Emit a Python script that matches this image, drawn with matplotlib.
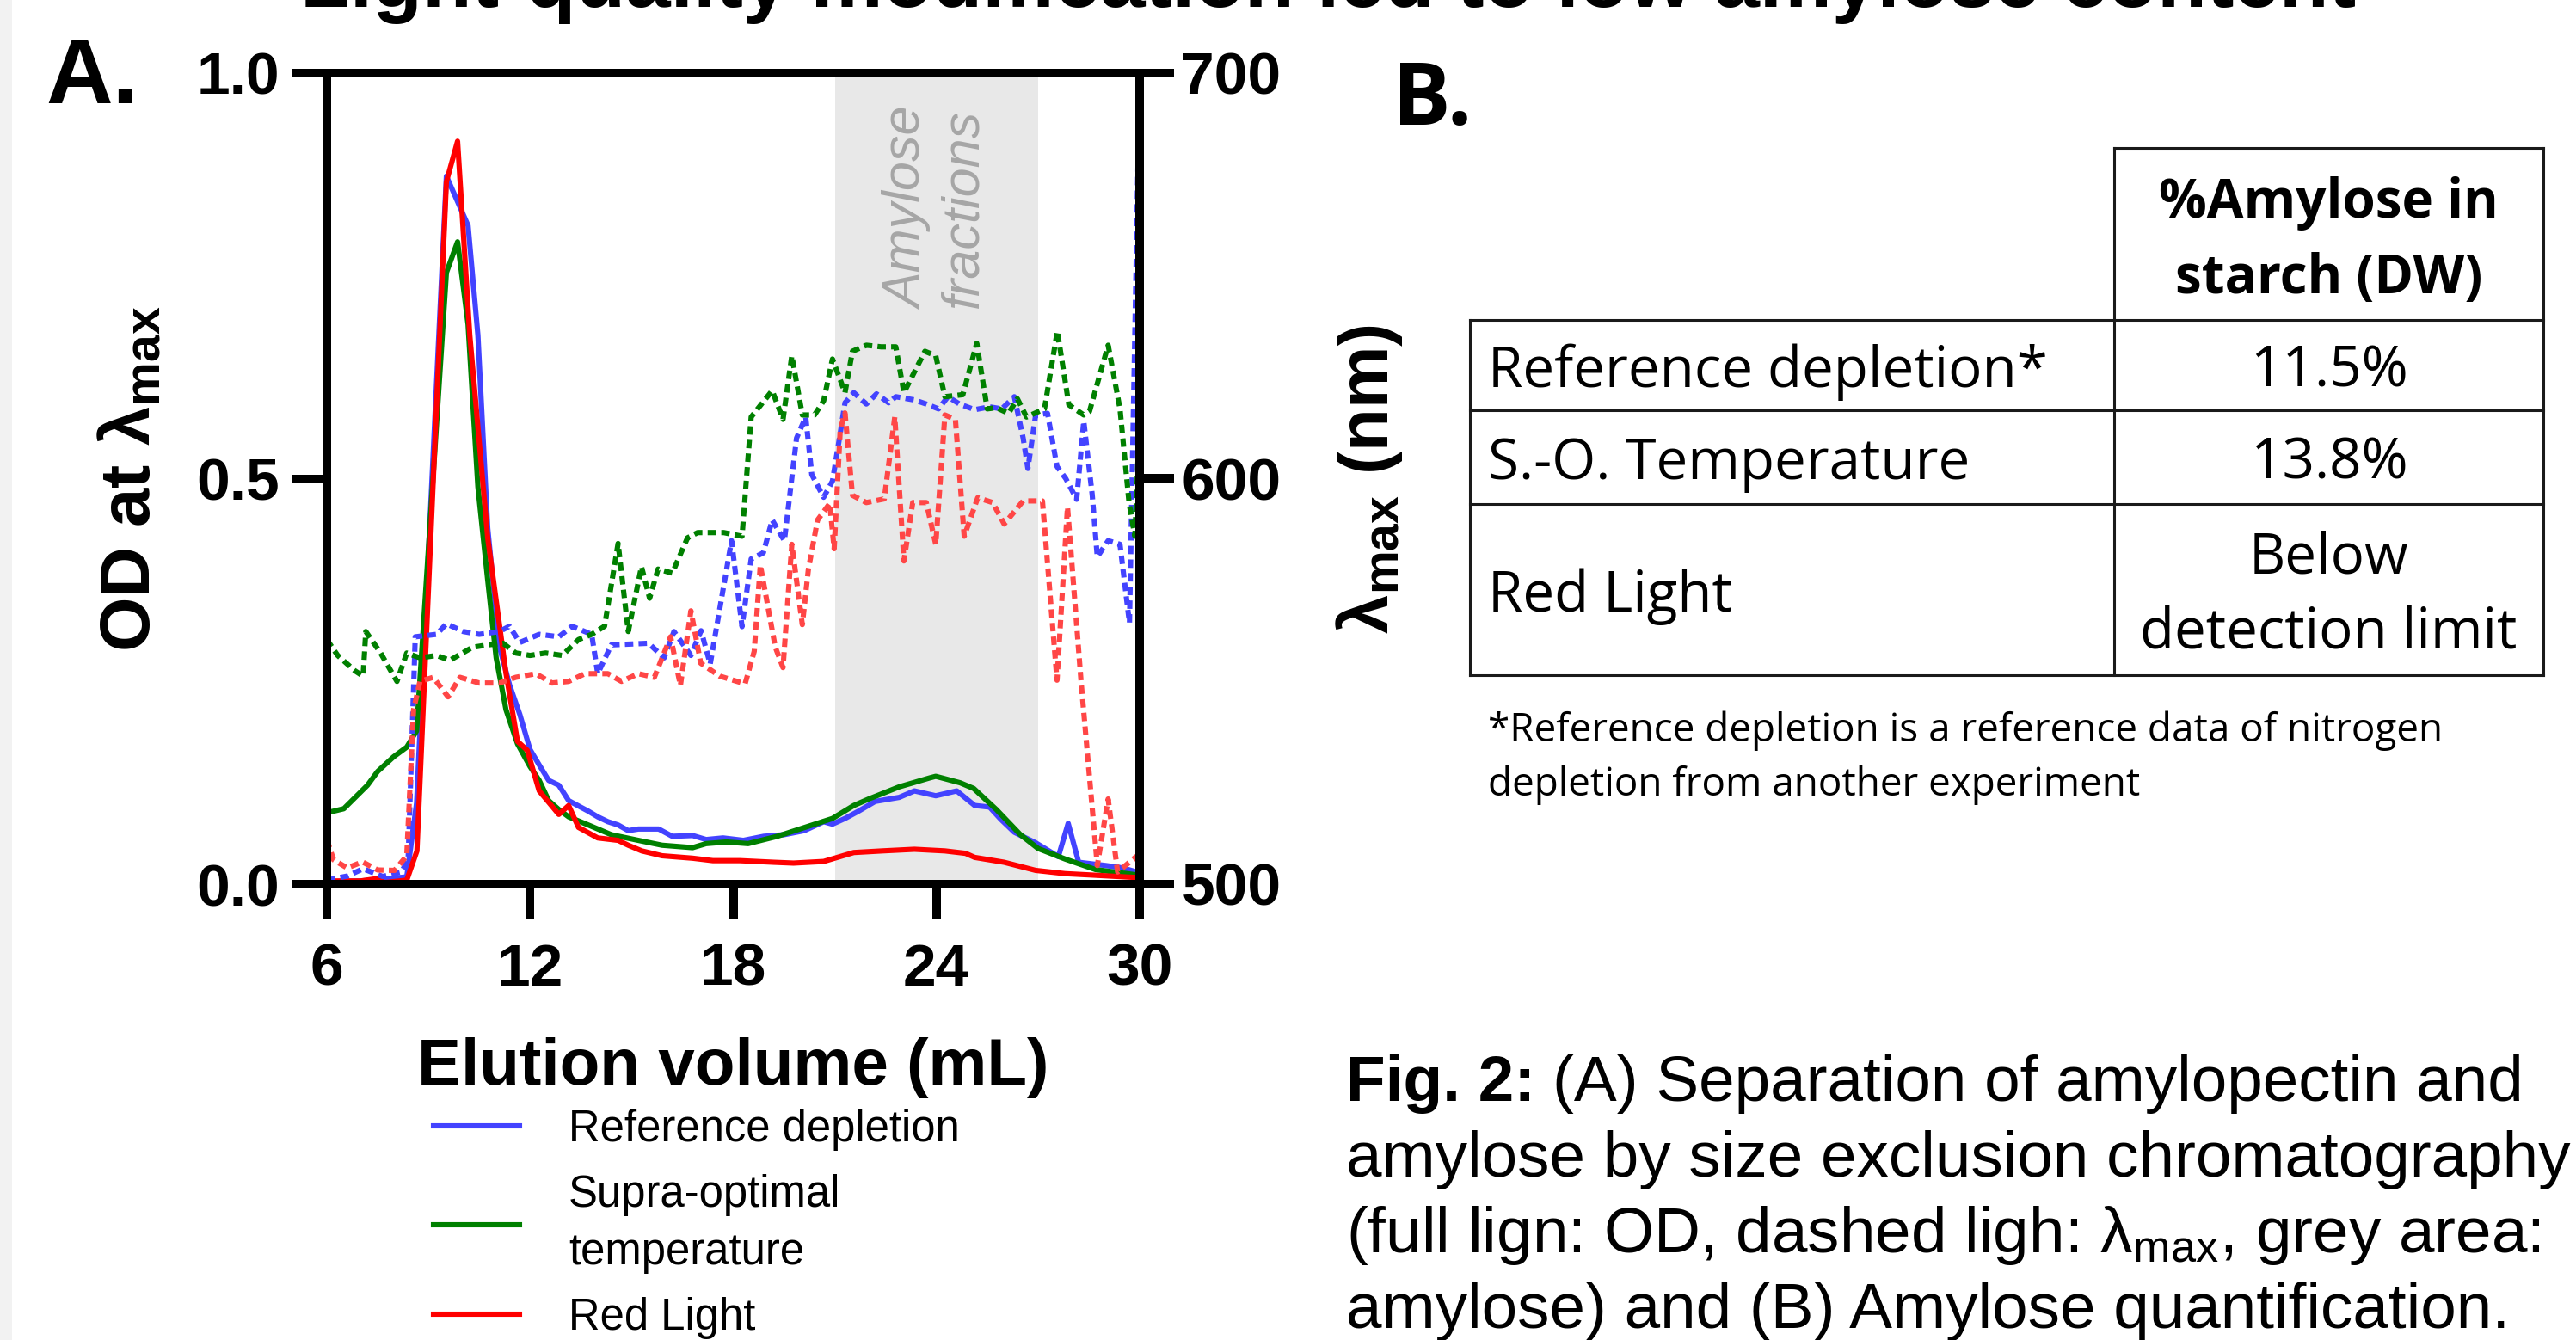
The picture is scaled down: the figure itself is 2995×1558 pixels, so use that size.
import numpy as np
import matplotlib
matplotlib.use("Agg")
import matplotlib.pyplot as plt
from matplotlib.patches import Rectangle
from matplotlib.ticker import FormatStrFormatter

plt.rcParams['font.family'] = ['Liberation Sans', 'DejaVu Sans']
plt.rcParams['mathtext.fontset'] = 'custom'
plt.rcParams['mathtext.rm'] = 'Liberation Sans'
plt.rcParams['mathtext.bf'] = 'Liberation Sans:bold'
plt.rcParams['mathtext.it'] = 'Liberation Sans:italic'

# ---- data (elution volume mL, value) ----
# OD at lambda max (left axis)
ref_od = [(6.0, .003), (7.0, .004), (7.6, .006), (8.36, .009), (8.65, .10), (9.53, .873),
          (10.17, .812), (10.46, .677), (10.75, .439), (11.1, .292), (11.4, .245), (11.7, .209),
          (12.0, .166), (12.3, .145), (12.55, .128), (12.85, .122), (13.14, .103), (13.45, .096),
          (13.72, .090), (14.0, .083), (14.3, .077), (14.6, .073), (14.9, .066), (15.2, .068),
          (15.8, .068), (16.2, .059), (16.8, .060), (17.2, .055), (17.7, .057), (18.3, .054),
          (18.9, .059), (19.5, .061), (20.1, .066), (20.67, .077), (20.93, .074), (21.3, .081),
          (21.7, .090), (22.19, .102), (22.9, .107), (23.35, .115), (23.98, .109), (24.6, .115),
          (25.13, .097), (25.57, .095), (25.9, .080), (26.3, .064), (26.93, .051), (27.6, .034),
          (27.89, .075), (28.2, .027), (29.0, .023), (29.5, .020), (30.0, .014)]
supra_od = [(6.0, .088), (6.5, .093), (7.2, .122), (7.5, .139), (7.97, .157), (8.36, .169),
            (8.65, .189), (9.53, .754), (9.86, .792), (10.17, .69), (10.46, .49), (10.75, .375),
            (11.0, .279), (11.29, .215), (11.63, .173), (12.0, .145), (12.27, .128), (12.55, .103),
            (12.85, .092), (13.14, .083), (13.72, .073), (14.4, .061), (15.2, .054), (15.9, .048),
            (16.8, .045), (17.2, .050), (17.8, .052), (18.44, .050), (19.3, .059), (20.04, .069),
            (20.93, .081), (21.56, .097), (22.0, .105), (22.9, .120), (23.8, .131), (23.98, .133),
            (24.7, .125), (25.1, .118), (25.77, .092), (26.48, .061), (27.0, .044), (27.8, .031),
            (28.7, .018), (30.0, .011)]
red_od = [(6.0, .004), (7.0, .004), (7.5, .007), (7.7, .002), (8.36, .005), (8.66, .041),
          (9.53, .866), (9.86, .916), (10.22, .677), (10.75, .427), (11.29, .26), (11.63, .176),
          (11.92, .165), (12.27, .115), (12.85, .086), (13.14, .097), (13.43, .070), (14.0, .057),
          (14.6, .054), (14.9, .048), (15.3, .041), (15.9, .035), (16.8, .032), (17.4, .029),
          (18.2, .029), (19.2, .027), (19.78, .026), (20.67, .028), (21.56, .039), (22.4, .041),
          (23.35, .043), (24.25, .041), (24.86, .038), (25.13, .033), (26.0, .027), (26.93, .017),
          (27.8, .013), (28.7, .011), (30.0, .008)]

# lambda max in nm (right axis)
ref_lmax = [(6.0, 501), (6.6, 502), (7.07, 503.8), (7.65, 501.9), (8.2, 503), (8.4, 506),
            (8.61, 561), (9.24, 561.6), (9.53, 564.2), (10.03, 562.3), (10.5, 561.6), (11.1, 562.3),
            (11.39, 563.6), (11.7, 559.6), (12.27, 561.6), (12.85, 561), (13.24, 563.6), (13.82, 561.6),
            (14.0, 551.9), (14.4, 559), (15.5, 559.4), (15.96, 555.8), (16.25, 562.3), (16.75, 556.4),
            (17.05, 562.5), (17.32, 554.3), (17.95, 584.7), (18.26, 563.5), (18.53, 580.2), (18.89, 581.7),
            (19.15, 589.8), (19.51, 584.7), (19.87, 610), (20.14, 615.2), (20.32, 601), (20.67, 595.4),
            (20.93, 599.4), (21.12, 609.1), (21.3, 618.7), (21.56, 621.2), (21.93, 618.4), (22.23, 620.9),
            (22.59, 618.7), (22.8, 620.2), (23.35, 619.4), (23.7, 618.4), (24.06, 617.2), (24.34, 620.2),
            (24.68, 618.4), (25.13, 617), (25.57, 617.7), (25.93, 617.2), (26.3, 620.2), (26.56, 610),
            (26.7, 602.5), (26.93, 615.7), (27.28, 616.1), (27.56, 603), (27.82, 600), (28.14, 594.9),
            (28.35, 614.2), (28.6, 596), (28.75, 580.7), (29.07, 584.7), (29.42, 583.8), (29.7, 564.4),
            (30.0, 699)]
supra_lmax = [(6.0, 560.3), (6.32, 556.4), (6.83, 552.6), (7.07, 551.3), (7.15, 562.3), (7.58, 557.1),
              (8.07, 550), (8.36, 557), (8.75, 555.8), (9.24, 556.4), (9.63, 555.2), (10.3, 558.4),
              (10.75, 559), (11.2, 559.4), (11.58, 557), (12.0, 556.4), (12.46, 557), (12.95, 556.4),
              (13.43, 560.3), (13.82, 561.6), (14.2, 563.6), (14.6, 584), (14.9, 562.3), (15.29, 578.3),
              (15.53, 570.5), (15.78, 577.7), (16.2, 576.7), (16.65, 585.4), (16.95, 586.7), (17.72, 586.7),
              (18.26, 585.8), (18.53, 615.2), (19.15, 621.7), (19.47, 614.6), (19.73, 630.3), (20.04, 615.7),
              (20.4, 615.7), (20.67, 619.2), (20.93, 629.5), (21.3, 621.2), (21.52, 631.4), (21.93, 632.9),
              (22.37, 632.5), (22.8, 632.5), (23.04, 621.2), (23.66, 631.4), (23.98, 630.3), (24.25, 620.2),
              (24.78, 620.7), (25.19, 633.4), (25.5, 617.2), (25.77, 617.5), (26.13, 616.1), (26.39, 619.7),
              (26.66, 615.2), (27.19, 617.2), (27.57, 636.4), (27.91, 618.2), (28.35, 615.7), (28.52, 616.6),
              (29.07, 632.9), (29.42, 617.2), (29.69, 593.9), (29.86, 585.8), (30.0, 614.6)]
red_lmax = [(6.0, 511), (6.2, 506), (6.6, 504), (7.05, 505.5), (7.5, 503.5), (8.0, 503.4),
            (8.36, 507), (8.56, 543), (8.75, 550), (9.14, 551), (9.58, 546.2), (9.93, 551),
            (10.5, 549.6), (11.1, 549.6), (11.58, 551), (12.17, 551.9), (12.65, 549.6), (13.14, 550),
            (13.62, 551.9), (14.3, 551.9), (14.7, 550), (15.2, 551.9), (15.67, 551), (16.15, 561),
            (16.44, 549), (16.75, 567.4), (17.04, 554.5), (17.6, 551.3), (18.35, 549.4), (18.62, 557.4),
            (18.8, 578.7), (19.24, 558.5), (19.47, 553.4), (19.73, 583.8), (20.04, 564), (20.22, 577.7),
            (20.49, 589.8), (20.85, 593.9), (20.98, 582.7), (21.16, 612.1), (21.3, 616.2), (21.52, 595.9),
            (21.93, 594.1), (22.46, 595), (22.77, 615.2), (23.04, 579.7), (23.3, 594.1), (23.7, 594.1),
            (23.98, 583.8), (24.25, 615.7), (24.56, 614.6), (24.82, 585.8), (25.22, 595.3), (25.66, 594.1),
            (26.0, 588.8), (26.56, 594.5), (27.13, 594.5), (27.56, 550.3), (27.87, 593), (28.27, 550),
            (28.75, 504.6), (29.07, 521), (29.35, 503), (29.9, 506.8), (30.0, 503)]

series_names = ["Reference depletion", "Supra-optimal\ntemperature", "Red Light"]
amylose_window = (21, 27)

x_ticks = [6, 12, 18, 24, 30]
od_ticks = [0.0, 0.5, 1.0]
nm_ticks = [500, 600, 700]

# table B
row_labels = ["Reference depletion*", "S.-O. Temperature", "Red Light"]
amylose_pct = ["11.5%", "13.8%", "Below\ndetection limit"]
table_header = "%Amylose in\nstarch (DW)"
footnote = ["*Reference depletion is a reference data of nitrogen",
            "depletion from another experiment"]

caption = ["(A) Separation of amylopectin and",
           "amylose by size exclusion chromatography",
           "(full lign: OD, dashed ligh: λ$_{\\mathrm{max}}$, grey area:",
           "amylose) and (B) Amylose quantification."]

# ---- figure ----
W, H = 2995, 1558
DPI = 200
fig = plt.figure(figsize=(W / DPI, H / DPI), dpi=DPI, facecolor='white')

ax = fig.add_axes([380 / W, 1 - 1028 / H, 945 / W, 943 / H])
ax2 = ax.twinx()

solid_cols = ['#4343ff', '#008000', '#ff0000']
dash_cols = ['#4343ff', '#008000', '#ff4646']
dash = (0, (1.6, 1.0))
lw = 2.2

ax.axvspan(*amylose_window, color='#e8e8e8', lw=0, zorder=0)

handles = []
for data, c in zip([ref_od, supra_od, red_od], solid_cols):
    xs, ys = zip(*data)
    ln, = ax.plot(xs, ys, color=c, lw=lw, zorder=3)
    handles.append(ln)

for data, c in zip([ref_lmax, supra_lmax, red_lmax], dash_cols):
    xs, ys = zip(*data)
    ax2.plot(xs, ys, color=c, lw=lw, ls=dash)

ax.text(24, 0.833, "Amylose\nfractions", rotation=90, ha='center', va='center',
        multialignment='center', color='#a6a6a6', fontsize=22, style='italic',
        linespacing=1.18)

ax.set_xlim(6, 30)
ax.set_ylim(0, 1)
ax2.set_ylim(500, 700)
ax.set_xticks(x_ticks)
ax.set_yticks(od_ticks)
ax2.set_yticks(nm_ticks)
ax.yaxis.set_major_formatter(FormatStrFormatter('%.1f'))

ax.tick_params(axis='x', direction='out', length=14.4, width=3.6, pad=10, labelsize=25, top=False)
ax.tick_params(axis='y', direction='out', length=14.4, width=3.6, pad=5.4, labelsize=25, right=False)
ax2.tick_params(axis='y', direction='out', length=14.4, width=3.6, pad=3, labelsize=25)
for lab in ax.get_xticklabels() + ax.get_yticklabels() + ax2.get_yticklabels():
    lab.set_fontweight('bold')
for a in (ax, ax2):
    for s in a.spines.values():
        s.set_linewidth(3.6)

ax.set_xlabel("Elution volume (mL)", fontsize=27.5, fontweight='bold')
ax.xaxis.set_label_coords(0.5, -0.2471)
ax.xaxis.label.set_va('baseline')
ax.set_ylabel("OD at λ$_{\\mathbf{max}}$", fontsize=29.4, fontweight='bold')
ax.yaxis.set_label_coords(-0.2169, 0.5)
ax.yaxis.label.set_va('baseline')
ax2.set_ylabel("λ$_{\\mathbf{max}}$ (nm)", fontsize=29.4, fontweight='bold')
ax2.yaxis.set_label_coords(1.3058, 0.5)
ax2.yaxis.label.set_va('baseline')

leg = ax.legend(handles, series_names, loc='upper left',
                bbox_to_anchor=(504 / W, 1 - 1289 / H), bbox_transform=fig.transFigure,
                frameon=False, fontsize=18.3, handlelength=1.97, handletextpad=1.12,
                labelspacing=0.53, borderpad=0, borderaxespad=0)
for t in leg.get_texts():
    t.set_linespacing(1.48)

# overlay in pixel coordinates for the page-like parts
ov = fig.add_axes([0, 0, 1, 1])
ov.set_zorder(-1)
ov.set_xlim(0, W)
ov.set_ylim(H, 0)
ov.axis('off')
ov.add_patch(Rectangle((0, 0), 14, H, color='#f2f2f2', lw=0))

ov.text(1544, 8, "Light-quality modification led to low amylose content",
        ha='center', va='baseline', fontsize=34, fontweight='bold')
ov.text(53, 120, "A.", ha='left', va='baseline', fontsize=38.7, fontweight='bold')
ov.text(1619, 145, "B.", ha='left', va='baseline', fontsize=36.3, fontweight='bold',
        family='Open Sans')

# table
tx = [1709, 2458, 2957]
ty = [172, 372, 477, 586, 785]
tkw = dict(color='#1a1a1a', lw=1.1)
ov.plot([tx[1], tx[2]], [ty[0], ty[0]], **tkw)
for yy in ty[1:]:
    ov.plot([tx[0], tx[2]], [yy, yy], **tkw)
ov.plot([tx[0], tx[0]], [ty[1], ty[4]], **tkw)
ov.plot([tx[1], tx[1]], [ty[0], ty[4]], **tkw)
ov.plot([tx[2], tx[2]], [ty[0], ty[4]], **tkw)


def cell_text(x, yc, text, ha='center', bold=False):
    lines = text.split('\n')
    n = len(lines)
    for i, line in enumerate(lines):
        yb = yc + 25 + (i - (n - 1) / 2) * 88
        ov.text(x, yb, line, ha=ha, va='baseline', family='Open Sans',
                fontsize=22.3 if bold else 23.6,
                fontweight='bold' if bold else 'normal')


xc = (tx[1] + tx[2]) / 2
cell_text(xc, (ty[0] + ty[1]) / 2, table_header, bold=True)
for i, (lab, val) in enumerate(zip(row_labels, amylose_pct)):
    yc = (ty[i + 1] + ty[i + 2]) / 2
    cell_text(1730, yc, lab, ha='left')
    cell_text(xc, yc, val)

for i, line in enumerate(footnote):
    ov.text(1730, 862 + i * 63, line, ha='left', va='baseline', fontsize=16.5, family='Open Sans')

# caption
fig.canvas.draw()
renderer = fig.canvas.get_renderer()
cap_size = 26.9
t0 = ov.text(1565, 1280, "Fig. 2:", ha='left', va='baseline', fontsize=cap_size, fontweight='bold')
bb = t0.get_window_extent(renderer)
ov.text(bb.x1 + 20, 1280, caption[0], ha='left', va='baseline', fontsize=cap_size)
for i, line in enumerate(caption[1:]):
    ov.text(1565, 1368 + i * 88, line, ha='left', va='baseline', fontsize=cap_size)

fig.savefig("out.png", dpi=DPI, facecolor='white')
